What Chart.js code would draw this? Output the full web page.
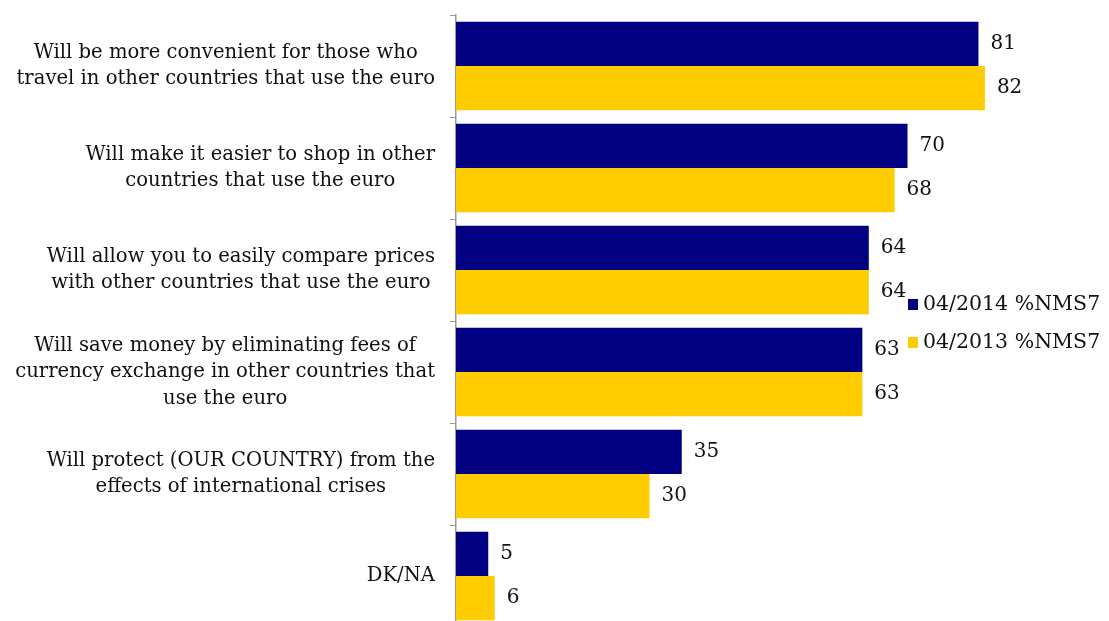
<!DOCTYPE html>
<html>
<head>
<meta charset="utf-8">
<script src="https://cdn.jsdelivr.net/npm/chart.js@4/dist/chart.umd.min.js"></script>
<style>
  html, body { margin: 0; padding: 0; background: #fff; overflow: hidden; }
  #wrap { position: relative; width: 1109px; height: 640px; }
</style>
</head>
<body>
<div id="wrap"><canvas id="benefitsChart"></canvas></div>
<script>
// Categories (multi-line labels as shown on the chart)
const categories = [
  ['Will be more convenient for those who', 'travel in other countries that use the euro'],
  ['Will make it easier to shop in other', 'countries that use the euro'],
  ['Will allow you to easily compare prices', 'with other countries that use the euro'],
  ['Will save money by eliminating fees of', 'currency exchange in other countries that', 'use the euro'],
  ['Will protect (OUR COUNTRY) from the', 'effects of international crises'],
  ['DK/NA']
];
const seriesNames = ['04/2014 %NMS7', '04/2013 %NMS7'];
const values2014 = [81, 70, 64, 63, 35, 5];
const values2013 = [82, 68, 64, 63, 30, 6];

const FONT = '"DejaVu Serif", "Liberation Serif", serif';
const NAVY = '#000080';
const GOLD = '#FFCC00';
const TEXT = '#111111';

// category labels: block right-aligned, lines centred inside the block
const categoryLabels = {
  id: 'categoryLabels',
  afterDraw(chart) {
    const ctx = chart.ctx;
    const yScale = chart.scales.y;
    ctx.save();
    ctx.font = '19.6px ' + FONT;
    ctx.fillStyle = TEXT;
    ctx.textAlign = 'center';
    ctx.textBaseline = 'middle';
    const rightEdge = chart.chartArea.left - 21;
    const lineH = 26.5;
    categories.forEach((lines, i) => {
      const maxW = Math.max(...lines.map(l => ctx.measureText(l).width));
      const cx = rightEdge - maxW / 2;
      const cy = yScale.getPixelForValue(i);
      const top = cy - (lines.length - 1) * lineH / 2;
      lines.forEach((l, j) => ctx.fillText(l, cx, top + j * lineH));
    });
    ctx.restore();
  }
};

// value labels to the right of each bar
const valueLabels = {
  id: 'valueLabels',
  afterDatasetsDraw(chart) {
    const ctx = chart.ctx;
    ctx.save();
    ctx.font = '20px ' + FONT;
    ctx.fillStyle = TEXT;
    ctx.textAlign = 'left';
    ctx.textBaseline = 'middle';
    chart.data.datasets.forEach((ds, di) => {
      chart.getDatasetMeta(di).data.forEach((bar, i) => {
        ctx.fillText(ds.data[i], bar.x + 12, bar.y);
      });
    });
    ctx.restore();
  }
};

// legend drawn inside the plot, right side
const sideLegend = {
  id: 'sideLegend',
  afterDraw(chart) {
    const ctx = chart.ctx;
    ctx.save();
    ctx.font = '20.5px ' + FONT;
    ctx.textAlign = 'left';
    ctx.textBaseline = 'middle';
    chart.data.datasets.forEach((ds, i) => {
      const y = 304 + i * 38;
      ctx.fillStyle = ds.backgroundColor;
      ctx.fillRect(908, y - 5, 10, 11);
      ctx.fillStyle = TEXT;
      ctx.fillText(ds.label, 923, y + 1);
    });
    ctx.restore();
  }
};

const ctx = document.getElementById('benefitsChart').getContext('2d');
new Chart(ctx, {
  type: 'bar',
  data: {
    labels: categories,
    datasets: [
      {
        label: seriesNames[0],
        data: values2014,
        backgroundColor: NAVY,
        categoryPercentage: 0.87,
        barPercentage: 1.0
      },
      {
        label: seriesNames[1],
        data: values2013,
        backgroundColor: GOLD,
        categoryPercentage: 0.87,
        barPercentage: 1.0
      }
    ]
  },
  options: {
    indexAxis: 'y',
    responsive: true,
    maintainAspectRatio: false,
    animation: false,
    layout: { padding: { top: 15, bottom: 13, left: 0, right: 8 } },
    plugins: {
      legend: { display: false },
      tooltip: { enabled: false }
    },
    scales: {
      x: {
        display: false,
        min: 0,
        max: 100
      },
      y: {
        afterFit(scale) { scale.width = 456; },
        grid: {
          display: true,
          drawOnChartArea: false,
          drawTicks: true,
          tickLength: 6,
          color: '#999999',
          offset: true
        },
        border: { display: true, color: '#999999', width: 1.5 },
        ticks: { display: false }
      }
    }
  },
  plugins: [categoryLabels, valueLabels, sideLegend]
});
</script>
</body>
</html>
